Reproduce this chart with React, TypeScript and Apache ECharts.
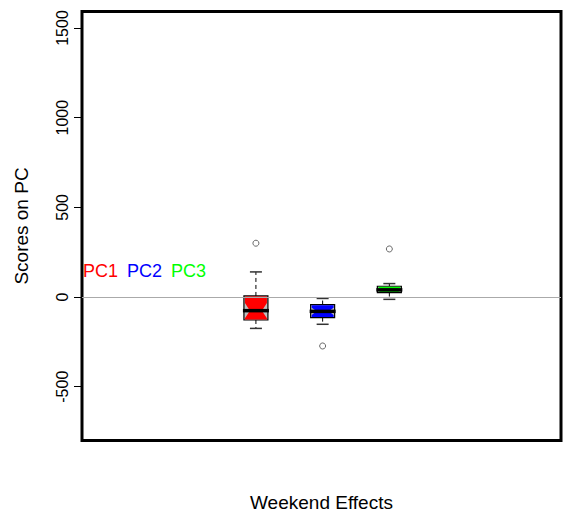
import React, { useEffect, useRef } from "react";
import * as echarts from "echarts";

// Box positions on the x scale (plot spans 0..7.18 units, one unit per box)
const positions = [2.607, 3.607, 4.607];
const seriesNames = ["PC1", "PC2", "PC3"];
const fills = ["#ff0000", "#0000ff", "#00ff00"];
// five-number summaries
const lowerWhisker = [-175, -152, -13];
const q1 = [-128, -115, 25];
const median = [-76, -80, 40];
const q3 = [6, -42, 60];
const upperWhisker = [140, -8, 75];
const notchLow = [-118, -100, 28];
const notchHigh = [-34, -60, 52];
// outliers [box index, value]
const outliers: [number, number][] = [
  [0, 300],
  [1, -273],
  [2, 268],
];
const yTicks = [-500, 0, 500, 1000, 1500];

const FONT = "'Liberation Sans', Arial, Helvetica, sans-serif";

export default function App() {
  const ref = useRef<HTMLDivElement>(null);
  useEffect(() => {
    if (!ref.current) return;
    const chart = echarts.init(ref.current, undefined, { renderer: "svg" });
    const boxData = positions.map((p, i) => [
      p,
      lowerWhisker[i],
      q1[i],
      median[i],
      q3[i],
      upperWhisker[i],
      notchLow[i],
      notchHigh[i],
    ]);
    const HW = 12;
    const CAP = 6;
    const option: any = {
      animation: false,
      grid: {
        left: 82,
        right: 5,
        top: 11.5,
        bottom: 82.5,
        show: true,
        borderColor: "#000",
        borderWidth: 3,
        backgroundColor: "transparent",
      },
      xAxis: {
        type: "value",
        min: 0,
        max: 7.18,
        name: "Weekend Effects",
        nameLocation: "middle",
        nameGap: 52,
        nameTextStyle: { fontSize: 19, color: "#000", fontFamily: FONT },
        axisLine: { show: false },
        axisTick: { show: false },
        axisLabel: { show: false },
        splitLine: { show: false },
      },
      yAxis: {
        type: "value",
        min: -800,
        max: 1592,
        name: "Scores on PC",
        nameLocation: "middle",
        nameRotate: 90,
        nameGap: 51,
        nameTextStyle: { fontSize: 19, color: "#000", fontFamily: FONT },
        axisLine: { show: false },
        axisTick: {
          show: true,
          length: 8,
          customValues: yTicks,
          lineStyle: { color: "#000", width: 1 },
        },
        axisLabel: {
          customValues: yTicks,
          formatter: (v: number) => String(v),
          rotate: 90,
          margin: 12,
          fontSize: 16,
          color: "#000",
          fontFamily: FONT,
        },
        splitLine: { show: false },
      },
      graphic: seriesNames.map((n, i) => ({
        type: "text",
        left: [83, 127, 171][i],
        top: 262,
        style: { text: n, fill: fills[i], fontSize: 18, fontFamily: FONT },
      })),
      series: [
        {
          type: "custom",
          data: boxData,
          renderItem: (params: any, api: any) => {
            const x = api.value(0);
            const c = (v: number) => api.coord([x, v]);
            const [cx, yLo] = c(api.value(1));
            const yQ1 = c(api.value(2))[1];
            const yMed = c(api.value(3))[1];
            const yQ3 = c(api.value(4))[1];
            const yUp = c(api.value(5))[1];
            const yNL = c(api.value(6))[1];
            const yNH = c(api.value(7))[1];
            const L = cx - HW;
            const R = cx + HW;
            const fill = fills[params.dataIndex];
            return {
              type: "group",
              children: [
                {
                  type: "line",
                  shape: { x1: cx, y1: yQ3, x2: cx, y2: yUp },
                  style: { stroke: "#000", lineWidth: 1, lineDash: [4, 3] },
                },
                {
                  type: "line",
                  shape: { x1: cx, y1: yQ1, x2: cx, y2: yLo },
                  style: { stroke: "#000", lineWidth: 1, lineDash: [4, 3] },
                },
                {
                  type: "line",
                  shape: { x1: cx - CAP, y1: yUp, x2: cx + CAP, y2: yUp },
                  style: { stroke: "#333", lineWidth: 1.5 },
                },
                {
                  type: "line",
                  shape: { x1: cx - CAP, y1: yLo, x2: cx + CAP, y2: yLo },
                  style: { stroke: "#333", lineWidth: 1.5 },
                },
                {
                  type: "rect",
                  shape: { x: L, y: yQ3, width: 2 * HW, height: yQ1 - yQ3 },
                  style: { fill: "#c0c0c0", stroke: "#000", lineWidth: 1.2 },
                },
                {
                  type: "polygon",
                  shape: {
                    points: [
                      [L + 1, yQ3 + 0.6],
                      [R - 1, yQ3 + 0.6],
                      [R - 1, yNH],
                      [cx + HW / 2, yMed],
                      [R - 1, yNL],
                      [R - 1, yQ1 - 0.6],
                      [L + 1, yQ1 - 0.6],
                      [L + 1, yNL],
                      [cx - HW / 2, yMed],
                      [L + 1, yNH],
                    ],
                  },
                  style: { fill, stroke: null },
                },
                {
                  type: "line",
                  shape: { x1: L - 1, y1: yMed, x2: R + 1, y2: yMed },
                  style: { stroke: "#000", lineWidth: 3.5 },
                },
              ],
            };
          },
          markLine: {
            silent: true,
            symbol: "none",
            label: { show: false },
            lineStyle: { color: "#aaaaaa", width: 1, type: "solid" },
            data: [{ yAxis: 0 }],
          },
          z: 3,
        },
        {
          type: "scatter",
          data: outliers.map(([i, v]) => [positions[i], v]),
          symbol: "circle",
          symbolSize: 6,
          itemStyle: { color: "#fff", borderColor: "#444", borderWidth: 1 },
          z: 4,
        },
      ],
    };
    chart.setOption(option);
    return () => chart.dispose();
  }, []);
  return (
    <div
      ref={ref}
      style={{ position: "absolute", left: 0, top: 0, width: 566, height: 523 }}
    />
  );
}
